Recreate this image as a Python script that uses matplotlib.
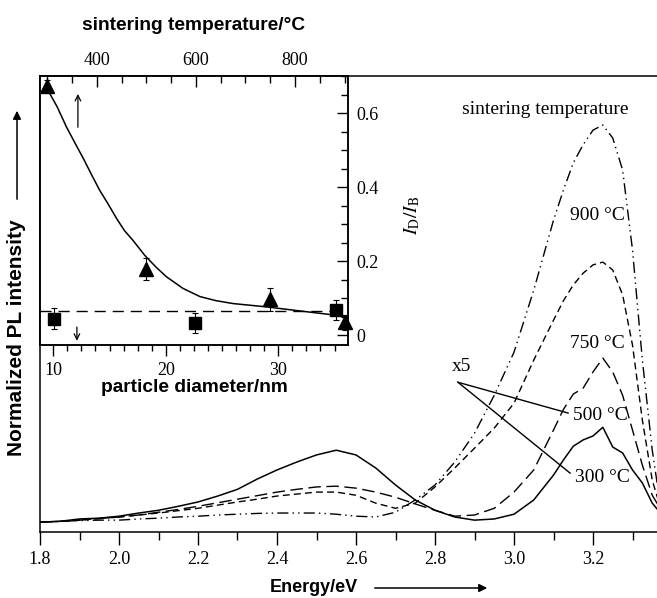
import numpy as np
import matplotlib.pyplot as plt
from matplotlib.ticker import MultipleLocator

plt.rcParams['font.family'] = ['Liberation Serif', 'DejaVu Serif']
plt.rcParams['mathtext.fontset'] = 'stix'
plt.rcParams['axes.linewidth'] = 1.1

# PL spectra, normalised so that the 900 °C peak is 1
energy = [1.80, 1.85, 1.90, 1.95, 2.00, 2.05, 2.10, 2.15, 2.20, 2.25,
          2.30, 2.35, 2.40, 2.45, 2.50, 2.55, 2.60, 2.65, 2.70, 2.75,
          2.80, 2.85, 2.90, 2.95, 3.00, 3.05, 3.10, 3.125, 3.15, 3.175,
          3.20, 3.225, 3.25, 3.275, 3.30, 3.325, 3.35, 3.365]
pl_300 = [-0.005, -0.003, 0.003, 0.005, 0.010, 0.018, 0.025, 0.035, 0.046, 0.061,
          0.078, 0.104, 0.127, 0.147, 0.165, 0.177, 0.165, 0.132, 0.089, 0.051,
          0.025, 0.008, 0.000, 0.003, 0.015, 0.051, 0.114, 0.152, 0.187, 0.203,
          0.213, 0.235, 0.185, 0.170, 0.127, 0.094, 0.043, 0.025]
pl_500 = [-0.005, -0.003, 0.000, 0.004, 0.008, 0.013, 0.020, 0.027, 0.035, 0.044,
          0.053, 0.062, 0.071, 0.078, 0.084, 0.086, 0.081, 0.071, 0.058, 0.041,
          0.025, 0.010, 0.013, 0.030, 0.071, 0.127, 0.228, 0.280, 0.319, 0.334,
          0.375, 0.410, 0.375, 0.316, 0.228, 0.139, 0.063, 0.038]
pl_750 = [-0.005, -0.003, 0.000, 0.004, 0.008, 0.013, 0.018, 0.024, 0.030, 0.038,
          0.046, 0.053, 0.061, 0.066, 0.071, 0.071, 0.063, 0.043, 0.030, 0.043,
          0.084, 0.132, 0.182, 0.233, 0.296, 0.405, 0.506, 0.555, 0.595, 0.625,
          0.646, 0.653, 0.633, 0.570, 0.443, 0.253, 0.101, 0.051]
pl_900 = [-0.005, -0.003, -0.001, 0.000, 0.000, 0.003, 0.005, 0.008, 0.010, 0.013,
          0.015, 0.017, 0.018, 0.018, 0.018, 0.015, 0.010, 0.008, 0.020, 0.051,
          0.089, 0.147, 0.220, 0.316, 0.425, 0.582, 0.759, 0.835, 0.904, 0.950,
          0.987, 1.000, 0.967, 0.886, 0.684, 0.405, 0.177, 0.076]

# inset: I_D/I_B versus sintering temperature (triangles) and particle diameter (squares)
temp_c = [300, 500, 750, 900]
ratio_temp = [0.675, 0.180, 0.097, 0.035]
ratio_temp_err = [0.015, 0.030, 0.030, 0.020]
diam_nm = [10.1, 22.6, 35.1]
ratio_diam = [0.045, 0.033, 0.068]
ratio_diam_err = [0.028, 0.027, 0.027]
ratio_mean = 0.065
fit_temp = [298, 320, 339, 356, 373, 390, 406, 423, 440, 456, 473, 497, 520, 541,
            574, 608, 640, 675, 743, 810, 905]
fit_ratio = [0.671, 0.618, 0.563, 0.520, 0.478, 0.433, 0.392, 0.355, 0.316, 0.283,
             0.257, 0.216, 0.184, 0.158, 0.127, 0.105, 0.094, 0.086, 0.077, 0.066,
             0.051]

W, H = 657, 598
fig = plt.figure(figsize=(W / 100, H / 100), dpi=100)

def px_box(x0, y0, x1, y1):
    return [x0 / W, 1 - y1 / H, (x1 - x0) / W, (y1 - y0) / H]

# ---------------- main spectra ----------------
ax = fig.add_axes(px_box(40, 76, 660, 532))
ax.plot(energy, pl_300, color='black', lw=1.1, ls='-')
ax.plot(energy, pl_500, color='black', lw=1.0, dashes=(9, 4))
ax.plot(energy, pl_750, color='black', lw=1.0, dashes=(5, 3))
ax.plot(energy, pl_900, color='black', lw=1.0, dashes=(8, 3, 1, 3, 1, 3))

ax.set_xlim(1.8, 1.8 + 620 / 395)
ax.set_ylim(-0.030, 1.124)
ax.set_yticks([])
ax.xaxis.set_minor_locator(MultipleLocator(0.1))
ax.set_xticks([1.8, 2.0, 2.2, 2.4, 2.6, 2.8, 3.0, 3.2])
ax.set_xticklabels(['1.8', '2.0', '2.2', '2.4', '2.6', '2.8', '3.0', '3.2'])
ax.tick_params(axis='x', which='major', direction='out', length=9, width=1.0,
               labelsize=13, pad=5)
ax.tick_params(axis='x', which='minor', direction='out', length=6, width=1.0)

ax.text(3.078, 1.038, 'sintering temperature', fontsize=14, ha='center', va='center')
ax.text(3.210, 0.772, '900 °C', fontsize=14, ha='center', va='center')
ax.text(3.210, 0.448, '750 °C', fontsize=14, ha='center', va='center')
ax.text(3.218, 0.266, '500 °C', fontsize=14, ha='center', va='center')
ax.text(3.223, 0.109, '300 °C', fontsize=14, ha='center', va='center')
ax.text(2.868, 0.390, 'x5', fontsize=14, ha='center', va='center')
ax.plot([2.858, 3.137], [0.349, 0.271], color='black', lw=1.0)
ax.plot([2.858, 3.142], [0.349, 0.119], color='black', lw=1.0)

# axis titles with arrows
sans = dict(family=['Liberation Sans', 'DejaVu Sans'], weight='bold')
fig.text(17 / W, 1 - 338 / H, 'Normalized PL intensity', rotation=90,
         ha='center', va='center', fontsize=15, **sans)
fig.patches.append(plt.matplotlib.patches.FancyArrowPatch(
    (17 / W, 1 - 202 / H), (17 / W, 1 - 108 / H), transform=fig.transFigure,
    arrowstyle='-|>', mutation_scale=12, lw=1.1, color='black'))
fig.text(314 / W, 1 - 588 / H, 'Energy/eV', ha='center', va='center',
         fontsize=13, **sans)
fig.patches.append(plt.matplotlib.patches.FancyArrowPatch(
    (372 / W, 1 - 588 / H), (490 / W, 1 - 588 / H), transform=fig.transFigure,
    arrowstyle='-|>', mutation_scale=12, lw=1.1, color='black'))

# ---------------- inset ----------------
ins = fig.add_axes(px_box(40, 76, 348, 345))
ins.set_facecolor('white')
ins.set_xlim(8.82, 36.2)
ins.set_ylim(-0.026, 0.701)
ins.yaxis.tick_right()
ins.set_yticks([0, 0.2, 0.4, 0.6])
ins.set_yticklabels(['0', '0.2', '0.4', '0.6'])
ins.yaxis.set_minor_locator(MultipleLocator(0.05))
ins.set_xticks([10, 20, 30])
ins.xaxis.set_minor_locator(MultipleLocator(1.25))
ins.tick_params(axis='y', which='major', direction='in', length=8, width=1.0,
                labelsize=13, pad=6)
ins.tick_params(axis='y', which='minor', direction='in', length=5, width=1.0)
ins.tick_params(axis='x', which='major', direction='out', length=8, width=1.0,
                labelsize=13, pad=4)
ins.tick_params(axis='x', which='minor', direction='out', length=4, width=1.0)

ins.axhline(ratio_mean, color='black', lw=1.0, dashes=(8, 5))
ins.errorbar(diam_nm, ratio_diam, yerr=ratio_diam_err, fmt='s', color='black',
             ms=9, elinewidth=0.8, capsize=2.5, capthick=0.8, clip_on=False)
ins.annotate('', xy=(12.1, -0.022), xytext=(12.1, 0.030),
             arrowprops=dict(arrowstyle='->', lw=0.9, color='black'))

top = ins.twiny()
top.set_xlim(285.5, 907)
top.set_xticks([400, 600, 800])
top.xaxis.set_minor_locator(MultipleLocator(50))
top.tick_params(axis='x', which='major', direction='in', length=8, width=1.0,
                labelsize=13, pad=5)
top.tick_params(axis='x', which='minor', direction='in', length=5, width=1.0)
top.plot(fit_temp, fit_ratio, color='black', lw=1.1)
top.errorbar(temp_c, ratio_temp, yerr=ratio_temp_err, fmt='^', color='black',
             ms=10, elinewidth=0.8, capsize=2.5, capthick=0.8, clip_on=False)
top.annotate('', xy=(362, 0.660), xytext=(362, 0.555),
             arrowprops=dict(arrowstyle='->', lw=0.9, color='black'))

fig.text(194 / W, 1 - 25 / H, 'sintering temperature/°C', ha='center',
         va='center', fontsize=13.8, **sans)
fig.text(194 / W, 1 - 388 / H, 'particle diameter/nm', ha='center',
         va='center', fontsize=13.8, **sans)
fig.text(412 / W, 1 - 215 / H, r'$I_{\mathrm{D}}/I_{\mathrm{B}}$', rotation=90,
         ha='center', va='center', fontsize=14)

fig.savefig('out.png', dpi=100)
